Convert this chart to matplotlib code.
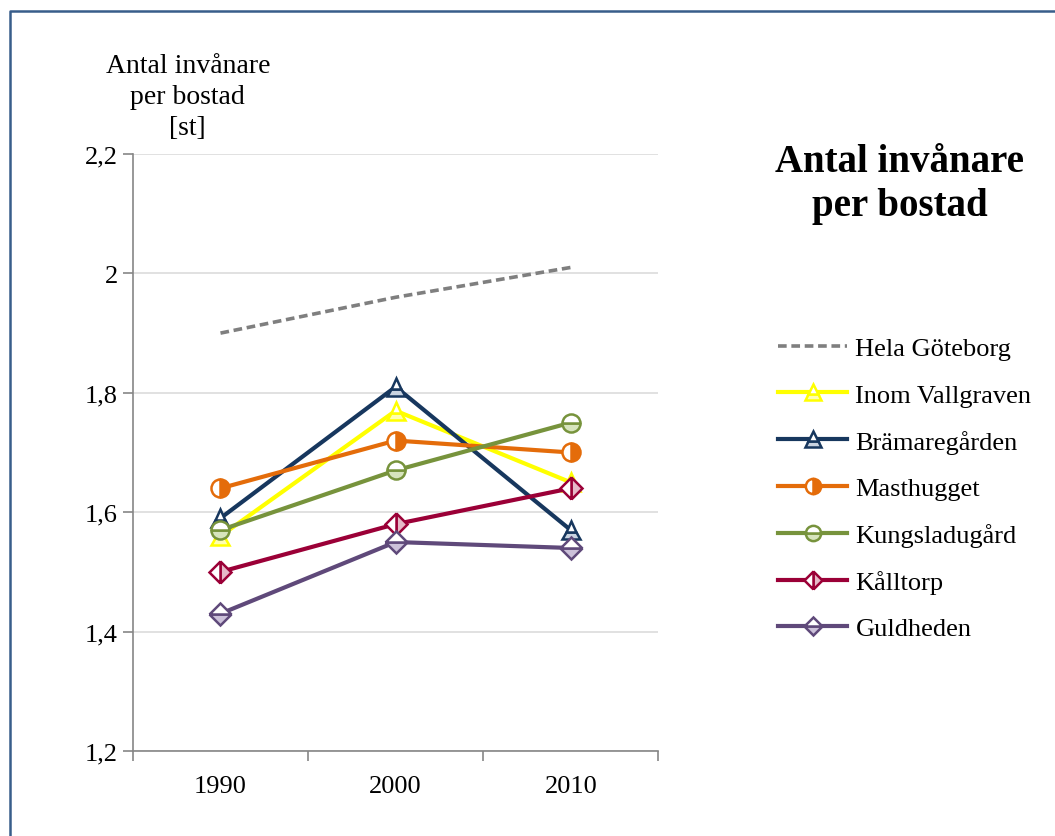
import matplotlib.pyplot as plt
from matplotlib.lines import Line2D

plt.rcParams['font.family'] = ['Liberation Serif', 'DejaVu Serif']

years = ['1990', '2000', '2010']
hela_goteborg = [1.90, 1.96, 2.01]
inom_vallgraven = [1.56, 1.77, 1.65]
bramaregarden = [1.59, 1.81, 1.57]
masthugget = [1.64, 1.72, 1.70]
kungsladugard = [1.57, 1.67, 1.75]
kalltorp = [1.50, 1.58, 1.64]
guldheden = [1.43, 1.55, 1.54]
y_ticks = [1.2, 1.4, 1.6, 1.8, 2.0, 2.2]
y_tick_labels = ['1,2', '1,4', '1,6', '1,8', '2', '2,2']

fig = plt.figure(figsize=(10.55, 8.37), dpi=100)
ax = fig.add_axes([0.126, 0.1016, 0.498, 0.7132])

x = range(len(years))

# dashed reference line for the whole city
ax.plot(x, hela_goteborg, color='#7F7F7F', lw=2.6, ls=(0, (2.4, 1.3)),
        label='Hela Göteborg', zorder=3)

series = [
    (inom_vallgraven, 'Inom Vallgraven', '#FFFF00', '^', 'bottom', '#FFFFB0'),
    (bramaregarden, 'Brämaregården', '#17375E', '^', 'bottom', '#C9D3E0'),
    (masthugget, 'Masthugget', '#E46C0A', 'o', 'right', '#E46C0A'),
    (kungsladugard, 'Kungsladugård', '#77933C', 'o', 'bottom', '#D7E4BD'),
    (kalltorp, 'Kålltorp', '#9B0037', 'D', 'right', '#E6B9C8'),
    (guldheden, 'Guldheden', '#5F497A', 'D', 'bottom', '#CCC1DA'),
]

handles = [Line2D([], [], color='#7F7F7F', lw=2.6, ls=(0, (2.4, 1.3)))]
labels = ['Hela Göteborg']
for vals, name, col, mk, fs, alt in series:
    ms = 13 if mk != 'D' else 11
    ax.plot(x, vals, color=col, lw=3, marker=mk, ms=ms, mew=1.8,
            mec=col, mfc=alt, fillstyle=fs, markerfacecoloralt='white',
            zorder=4)
    handles.append(Line2D([], [], color=col, lw=3, marker=mk, ms=ms - 2,
                          mew=1.8, mec=col, mfc=alt, fillstyle=fs,
                          markerfacecoloralt='white'))
    labels.append(name)

ax.set_xlim(-0.5, 2.5)
ax.set_ylim(1.2, 2.2)
ax.set_yticks(y_ticks)
ax.set_yticklabels(y_tick_labels)
ax.set_xticks(list(x))
ax.set_xticklabels(years)
ax.set_xticks([-0.5, 0.5, 1.5, 2.5], minor=True)
ax.tick_params(axis='x', which='major', length=0, pad=17, labelsize=19)
ax.tick_params(axis='x', which='minor', length=7, color='#868686', width=1.2)
ax.tick_params(axis='y', length=7, color='#868686', width=1.2, pad=4,
               labelsize=19)

ax.grid(axis='y', color='#D9D9D9', lw=1.1)
ax.set_axisbelow(True)
for side in ['top', 'right']:
    ax.spines[side].set_visible(False)
for side in ['left', 'bottom']:
    ax.spines[side].set_color('#868686')
    ax.spines[side].set_linewidth(1.2)

fig.text(0.178, 0.936, 'Antal invånare\nper bostad\n[st]', ha='center',
         va='top', fontsize=20, linespacing=1.33)

fig.text(0.853, 0.779, 'Antal invånare\nper bostad', ha='center',
         va='center', fontsize=28, fontweight='bold', linespacing=1.25)

fig.legend(handles, labels, loc='upper left', bbox_to_anchor=(0.727, 0.609),
           frameon=False, fontsize=19, handlelength=2.65, handletextpad=0.3,
           labelspacing=0.87, borderaxespad=0)

# outer frame around the chart area
fig.add_artist(Line2D([0.0095, 0.0095, 1.0], [0.0, 0.9857, 0.9857],
                      transform=fig.transFigure, color='#385D8A', lw=1.8))

fig.savefig('out.png', dpi=100)
